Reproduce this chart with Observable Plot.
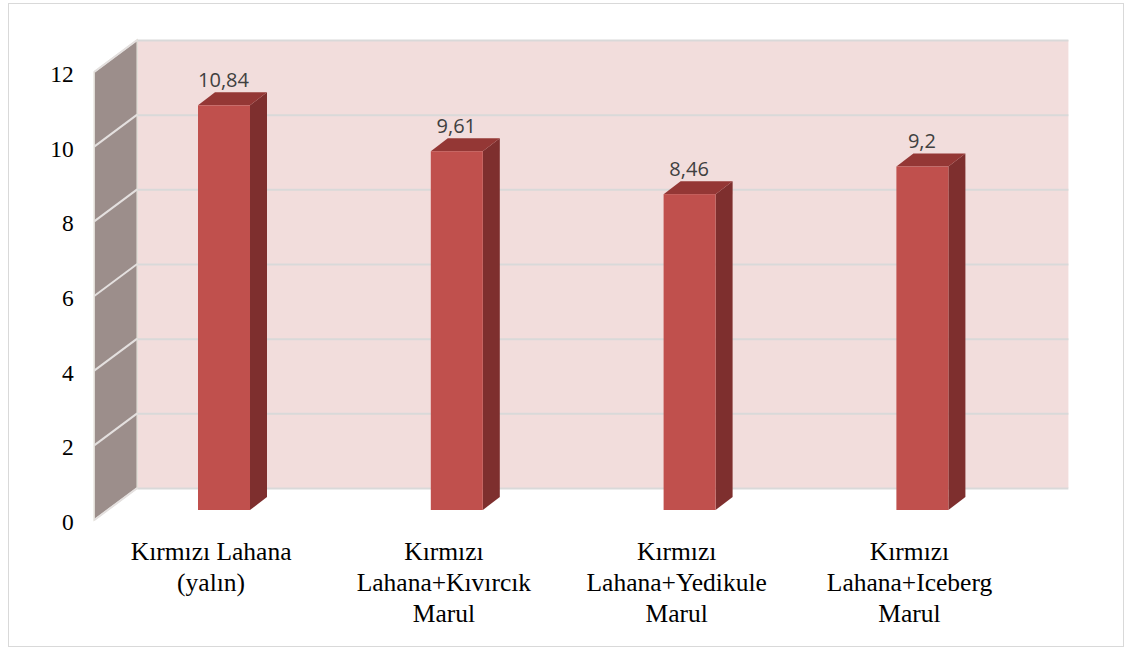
<!DOCTYPE html>
<html><head><meta charset="utf-8">
<script src="https://cdn.jsdelivr.net/npm/d3@7"></script>
<script src="https://cdn.jsdelivr.net/npm/@observablehq/plot@0.6"></script>
<style>
html,body{margin:0;padding:0;background:#fff;}
#wrap{position:relative;width:1125px;height:648px;overflow:hidden;}
#frame{position:absolute;left:8px;top:3px;width:1116px;height:644px;box-sizing:border-box;border:1px solid #d9d9d9;pointer-events:none;}
</style></head><body><div id="wrap"><div id="frame"></div></div>
<script>
const categories = ["Kırmızı Lahana (yalın)", "Kırmızı Lahana+Kıvırcık Marul", "Kırmızı Lahana+Yedikule Marul", "Kırmızı Lahana+Iceberg Marul"];
const categoryLines = [["Kırmızı Lahana", "(yalın)"], ["Kırmızı", "Lahana+Kıvırcık", "Marul"], ["Kırmızı", "Lahana+Yedikule", "Marul"], ["Kırmızı", "Lahana+Iceberg", "Marul"]];
const values = [10.84, 9.61, 8.46, 9.2];
const valueLabels = ["10,84", "9,61", "8,46", "9,2"];
const yTicks = [0, 2, 4, 6, 8, 10, 12];

const data = categories.map((c, i) => ({i, category: c, value: values[i], label: valueLabels[i]}));

// 3D pseudo-perspective offsets (pixels)
const WALL_DX = 43, WALL_DY = -32;
const BAR_DX = 13.4, BAR_DY = -10;
const DEPTH_X = 17, DEPTH_Y = -13;
const BAR_INSET = 90.4;
const SERIF = "'Liberation Serif', 'Times New Roman', serif";

function getScales(args) {
  return args.find(a => a && typeof a.x === "function" && typeof a.y === "function");
}

function sideWall(...args) {
  const s = getScales(args);
  const g = d3.create("svg:g");
  const x0 = s.x(-0.5), yb = s.y(0), yt = s.y(12);
  g.append("path")
    .attr("d", `M${x0},${yb}L${x0},${yt}L${x0 + WALL_DX},${yt + WALL_DY}L${x0 + WALL_DX},${yb + WALL_DY}Z`)
    .attr("fill", "#9c8e8b").attr("stroke", "#e2ded8").attr("stroke-width", 1.5);
  for (const t of yTicks) {
    const y = s.y(t);
    g.append("line").attr("x1", x0).attr("y1", y).attr("x2", x0 + WALL_DX).attr("y2", y + WALL_DY)
      .attr("stroke", "#e4e0df").attr("stroke-width", 2);
  }
  return g.node();
}

function barFaces(...args) {
  const s = getScales(args);
  const g = d3.create("svg:g");
  for (const d of data) {
    const xl = s.x(d.i - 0.5) + BAR_INSET + BAR_DX;
    const xr = s.x(d.i + 0.5) - BAR_INSET + BAR_DX;
    const yb = s.y(0) + BAR_DY, yt = s.y(d.value) + BAR_DY;
    g.append("path")
      .attr("d", `M${xr},${yt}L${xr + DEPTH_X},${yt + DEPTH_Y}L${xr + DEPTH_X},${yb + DEPTH_Y}L${xr},${yb}Z`)
      .attr("fill", "#7e2f2e");
    g.append("path")
      .attr("d", `M${xl},${yt}L${xl + DEPTH_X},${yt + DEPTH_Y}L${xr + DEPTH_X},${yt + DEPTH_Y}L${xr},${yt}Z`)
      .attr("fill", "#943735");
  }
  return g.node();
}

const chart = Plot.plot({
  width: 1125,
  height: 648,
  marginLeft: 94.2,
  marginRight: 99.6,
  marginTop: 72,
  marginBottom: 128,
  style: {background: "transparent", fontFamily: SERIF, fontSize: "24px", color: "#000", overflow: "visible"},
  x: {type: "linear", domain: [-0.5, 3.5], label: null},
  y: {domain: [0, 12], label: null},
  marks: [
    Plot.rect([{x1: -0.5, x2: 3.5, y1: 0, y2: 12}], {x1: "x1", x2: "x2", y1: "y1", y2: "y2", dx: WALL_DX, dy: WALL_DY, fill: "#f2dddc"}),
    Plot.ruleY(yTicks, {x1: -0.5, x2: 3.5, dx: WALL_DX, dy: WALL_DY, stroke: "#d9d9d9", strokeWidth: 2}),
    sideWall,
    barFaces,
    Plot.rect(data, {x1: d => d.i - 0.5, x2: d => d.i + 0.5, y1: 0, y2: "value", insetLeft: BAR_INSET, insetRight: BAR_INSET, dx: BAR_DX, dy: BAR_DY, fill: "#c0504d"}),
    Plot.text(data, {x: "i", y: "value", text: "label", dx: BAR_DX - 1, dy: BAR_DY - 25, fontFamily: "'Open Sans', sans-serif", fontSize: 20, fill: "#404040"}),
    Plot.axisY({ticks: yTicks, tickSize: 0, tickPadding: 21, fontSize: 23.5, fontFamily: SERIF, fill: "#000", label: null, dy: 2, tickFormat: d => String(d)}),
    Plot.axisX({ticks: [0, 1, 2, 3], tickSize: 0, tickPadding: 17, fontSize: 25.5, fontFamily: SERIF, fill: "#000", lineHeight: 1.22, label: null, tickFormat: i => categoryLines[i].join("\n")})
  ]
});
document.getElementById("wrap").insertBefore(chart, document.getElementById("frame"));
</script>
</body></html>
